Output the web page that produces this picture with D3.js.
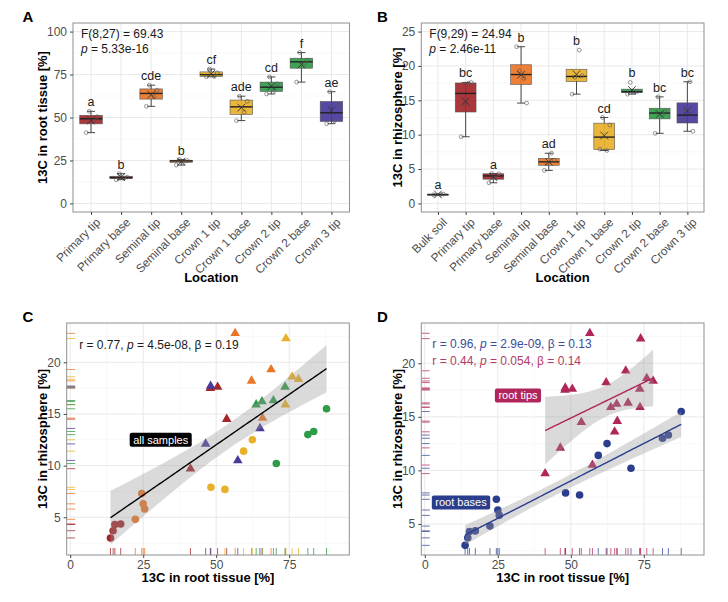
<!DOCTYPE html>
<html>
<head>
<meta charset="utf-8">
<script src="https://cdn.jsdelivr.net/npm/d3@7"></script>
<style>
  body { margin: 0; background: #fff; }
  text { font-family: 'Liberation Sans', Arial, sans-serif; }
</style>
</head>
<body>
<svg id="fig" width="728" height="602"></svg>
<script>
// locations shown on the box plots
const locationsA = ['Primary tip', 'Primary base', 'Seminal tip', 'Seminal base', 'Crown 1 tip',
                    'Crown 1 base', 'Crown 2 tip', 'Crown 2 base', 'Crown 3 tip'];
const locationsB = ['Bulk soil'].concat(locationsA);

// one entry per root sample (4 per location)
const sampleLocation = [
  'Primary tip', 'Primary tip', 'Primary tip', 'Primary tip',
  'Primary base', 'Primary base', 'Primary base', 'Primary base',
  'Seminal tip', 'Seminal tip', 'Seminal tip', 'Seminal tip',
  'Seminal base', 'Seminal base', 'Seminal base', 'Seminal base',
  'Crown 1 tip', 'Crown 1 tip', 'Crown 1 tip', 'Crown 1 tip',
  'Crown 1 base', 'Crown 1 base', 'Crown 1 base', 'Crown 1 base',
  'Crown 2 tip', 'Crown 2 tip', 'Crown 2 tip', 'Crown 2 tip',
  'Crown 2 base', 'Crown 2 base', 'Crown 2 base', 'Crown 2 base',
  'Crown 3 tip', 'Crown 3 tip', 'Crown 3 tip', 'Crown 3 tip'
];
// 13C in root tissue [%]
const rootTissue = [
  41.2, 48.0, 50.5, 53.6,
  13.8, 14.7, 15.3, 17.3,
  56.5, 62.1, 65.9, 68.8,
  22.3, 24.5, 25.0, 25.5,
  73.7, 73.9, 76.0, 78.2,
  48.2, 53.0, 59.4, 62.4,
  63.7, 65.7, 69.6, 73.6,
  70.6, 81.4, 83.4, 87.8,
  46.4, 48.1, 57.4, 65.0
];
// 13C in rhizosphere [%]
const rhizosphere = [
  9.7, 17.5, 17.6, 14.5,
  3.0, 3.7, 4.3, 4.35,
  22.8, 18.2, 14.6, 19.3,
  4.8, 7.3, 6.3, 5.8,
  15.9, 22.3, 18.6, 18.35,
  7.9, 7.7, 11.4, 12.5,
  15.9, 16.2, 16.3, 17.6,
  10.2, 13.0, 13.3, 15.5,
  12.1, 17.7, 10.5, 13.6
];
const bulkSoil = [1.25, 1.3, 1.35];

// compact letter display
const lettersA = ['a', 'b', 'cde', 'b', 'cf', 'ade', 'cd', 'f', 'ae'];
const lettersB = ['a', 'bc', 'a', 'b', 'ad', 'b', 'cd', 'b', 'bc', 'bc'];

const statsA = ['F(8,27) = 69.43', '5.33e-16'];
const statsB = ['F(9,29) = 24.94', '2.46e-11'];
const statsC = ['0.77', '4.5e-08', '0.19'];
const statsDbase = ['0.96', '2.9e-09', '0.13'];
const statsDtip = ['0.44', '0.054', '0.14'];

// colours
const locColor = {
  'Bulk soil': '#8a8a8a',
  'Primary tip': '#A3262A', 'Primary base': '#A3262A',
  'Seminal tip': '#EB7526', 'Seminal base': '#EB7526',
  'Crown 1 tip': '#E8B12B', 'Crown 1 base': '#E8B12B',
  'Crown 2 tip': '#2F9A47', 'Crown 2 base': '#2F9A47',
  'Crown 3 tip': '#48399B'
};
const tipColor = '#B0255A', baseColor = '#2B3D8D';
const tipText = '#B33C6A', baseText = '#3A4C99';

const isTip = loc => loc.endsWith('tip');
const jitter = [-0.16, 0.1, 0.2, -0.06];

const svg = d3.select('#fig');

function frame(g, p) {
  g.append('rect').attr('x', p.x).attr('y', p.y).attr('width', p.w).attr('height', p.h)
    .attr('fill', 'none').attr('stroke', '#8f8f8f').attr('stroke-width', 1);
}

function yGrid(g, p, y, major, minor) {
  g.selectAll(null).data(minor).enter().append('line')
    .attr('x1', p.x).attr('x2', p.x + p.w).attr('y1', d => y(d)).attr('y2', d => y(d))
    .attr('stroke', '#f3f3f3').attr('stroke-width', 0.6);
  g.selectAll(null).data(major).enter().append('line')
    .attr('x1', p.x).attr('x2', p.x + p.w).attr('y1', d => y(d)).attr('y2', d => y(d))
    .attr('stroke', '#e6e6e6').attr('stroke-width', 0.9);
}

function xGrid(g, p, x, major, minor) {
  g.selectAll(null).data(minor).enter().append('line')
    .attr('y1', p.y).attr('y2', p.y + p.h).attr('x1', d => x(d)).attr('x2', d => x(d))
    .attr('stroke', '#f3f3f3').attr('stroke-width', 0.6);
  g.selectAll(null).data(major).enter().append('line')
    .attr('y1', p.y).attr('y2', p.y + p.h).attr('x1', d => x(d)).attr('x2', d => x(d))
    .attr('stroke', '#e6e6e6').attr('stroke-width', 0.9);
}

function styleAxis(ax) {
  ax.select('.domain').remove();
  ax.selectAll('.tick line').attr('stroke', '#444');
  ax.selectAll('.tick text').attr('fill', '#4d4d4d').style('font-size', '11.5px')
    .style('font-family', "'Liberation Sans', Arial, sans-serif");
}

function panelLetter(txt, x, y) {
  svg.append('text').attr('x', x).attr('y', y).text(txt)
    .style('font-size', '15px').style('font-weight', 'bold');
}

function yTitle(txt, x, p) {
  svg.append('text').attr('transform', `translate(${x},${p.y + p.h / 2}) rotate(-90)`)
    .attr('text-anchor', 'middle').attr('dy', '0.35em').text(txt)
    .style('font-size', '13px').style('font-weight', 'bold');
}

function xTitle(txt, p, y) {
  svg.append('text').attr('x', p.x + p.w / 2).attr('y', y).attr('text-anchor', 'middle').text(txt)
    .style('font-size', '13px').style('font-weight', 'bold');
}

// ---------- box plot panels ----------
function boxPanel(p, cats, groups, letters, domain, ticks, minor, stats) {
  const g = svg.append('g');
  const x = d3.scalePoint().domain(cats).range([p.x, p.x + p.w]).padding(0.6);
  const y = d3.scaleLinear().domain(domain).range([p.y + p.h, p.y]);
  const bw = x.step() * 0.75;

  g.append('rect').attr('x', p.x).attr('y', p.y).attr('width', p.w).attr('height', p.h).attr('fill', '#fff');
  yGrid(g, p, y, ticks, minor);
  xGrid(g, p, x, cats, []);

  cats.forEach((c, i) => {
    const v = groups[i].slice().sort(d3.ascending);
    const q1 = d3.quantile(v, 0.25), med = d3.quantile(v, 0.5), q3 = d3.quantile(v, 0.75);
    const iqr = q3 - q1;
    const lo = d3.min(v.filter(d => d >= q1 - 1.5 * iqr));
    const hi = d3.max(v.filter(d => d <= q3 + 1.5 * iqr));
    const cx = x(c);
    // error bar with caps
    g.append('line').attr('x1', cx).attr('x2', cx).attr('y1', y(lo)).attr('y2', y(hi))
      .attr('stroke', '#333').attr('stroke-width', 0.9);
    [lo, hi].forEach(d => g.append('line').attr('x1', cx - 4).attr('x2', cx + 4)
      .attr('y1', y(d)).attr('y2', y(d)).attr('stroke', '#333').attr('stroke-width', 0.9));
    g.append('rect').attr('x', cx - bw / 2).attr('width', bw)
      .attr('y', y(q3)).attr('height', Math.max(1, y(q1) - y(q3)))
      .attr('fill', locColor[c]).attr('fill-opacity', 0.92)
      .attr('stroke', '#555').attr('stroke-width', 0.6);
    g.append('line').attr('x1', cx - bw / 2).attr('x2', cx + bw / 2).attr('y1', y(med)).attr('y2', y(med))
      .attr('stroke', '#222').attr('stroke-width', 1.4);
    // jittered raw values
    g.selectAll(null).data(groups[i]).enter().append('circle')
      .attr('cx', (d, j) => cx + jitter[j % 4] * x.step()).attr('cy', d => y(d)).attr('r', 1.9)
      .attr('fill', 'none').attr('stroke', '#555').attr('stroke-width', 0.6);
    // mean
    g.append('path').attr('d', d3.symbol(d3.symbolTimes, 40)())
      .attr('transform', `translate(${cx},${y(d3.mean(groups[i]))})`)
      .attr('fill', 'none').attr('stroke', '#333').attr('stroke-width', 0.9);
    // letters
    g.append('text').attr('x', cx).attr('y', y(d3.max(v)) - 5).attr('text-anchor', 'middle')
      .text(letters[i]).style('font-size', '12.5px').attr('fill', '#1a1a1a');
  });

  frame(g, p);
  const ay = g.append('g').attr('transform', `translate(${p.x},0)`)
    .call(d3.axisLeft(y).tickValues(ticks).tickSize(3).tickPadding(3));
  styleAxis(ay);
  ay.selectAll('.tick text').style('font-size', '12px');
  const ax = g.append('g').attr('transform', `translate(0,${p.y + p.h})`)
    .call(d3.axisBottom(x).tickSize(3).tickFormat(''));
  styleAxis(ax);
  cats.forEach(c => {
    g.append('text').attr('transform', `translate(${x(c) + 4},${p.y + p.h + 5}) rotate(-45)`)
      .attr('text-anchor', 'end').attr('dy', '0.72em').text(c)
      .style('font-size', '11.8px').attr('fill', '#4d4d4d');
  });

  g.append('text').attr('x', p.x + 8).attr('y', p.y + 15).text(stats[0])
    .style('font-size', '12px').attr('fill', '#1a1a1a');
  const t2 = g.append('text').attr('x', p.x + 8).attr('y', p.y + 30)
    .style('font-size', '12px').attr('fill', '#1a1a1a');
  t2.append('tspan').style('font-style', 'italic').text('p');
  t2.append('tspan').text(' = ' + stats[1]);
}

const pA = { x: 73, y: 23, w: 276.5, h: 189 };
const pB = { x: 421.3, y: 23, w: 282.7, h: 189 };
const pC = { x: 66.7, y: 323, w: 282.6, h: 232 };
const pD = { x: 421.3, y: 323, w: 282.7, h: 232 };

const groupsA = locationsA.map(l => rootTissue.filter((d, i) => sampleLocation[i] === l));
const groupsB = locationsB.map(l => l === 'Bulk soil' ? bulkSoil
  : rhizosphere.filter((d, i) => sampleLocation[i] === l));

boxPanel(pA, locationsA, groupsA, lettersA, [-5, 105], [0, 25, 50, 75, 100],
  [12.5, 37.5, 62.5, 87.5], statsA);
boxPanel(pB, locationsB, groupsB, lettersB, [-1.25, 26.25], [0, 5, 10, 15, 20, 25],
  [2.5, 7.5, 12.5, 17.5, 22.5], statsB);

panelLetter('A', 22.5, 22);
panelLetter('B', 377, 22);
yTitle('13C in root tissue [%]', 42, pA);
yTitle('13C in rhizosphere [%]', 397, pB);
xTitle('Location', pA, 282);
xTitle('Location', pB, 282);

// ---------- scatter panels ----------
const samples = sampleLocation.map((l, i) => ({ loc: l, x: rootTissue[i], y: rhizosphere[i] }));

function fitLine(pts, tcrit) {
  const xs = pts.map(d => d.x), ys = pts.map(d => d.y);
  const n = xs.length, mx = d3.mean(xs), my = d3.mean(ys);
  const sxx = d3.sum(xs, v => (v - mx) ** 2);
  const sxy = d3.sum(xs.map((v, i) => (v - mx) * (ys[i] - my)));
  const b = sxy / sxx, a = my - b * mx;
  const s = Math.sqrt(d3.sum(xs.map((v, i) => (ys[i] - a - b * v) ** 2)) / (n - 2));
  const [x0, x1] = d3.extent(xs);
  return d3.range(81).map(k => {
    const xv = x0 + (x1 - x0) * k / 80;
    const yh = a + b * xv, se = s * Math.sqrt(1 / n + (xv - mx) ** 2 / sxx);
    return { x: xv, y: yh, lo: yh - tcrit * se, hi: yh + tcrit * se };
  });
}

function scatterPanel(p, yDomain, colorOf, rugOpacity, fits) {
  const g = svg.append('g');
  const x = d3.scaleLinear().domain([-1.2, 95.6]).range([p.x, p.x + p.w]);
  const y = d3.scaleLinear().domain(yDomain).range([p.y + p.h, p.y]);

  g.append('rect').attr('x', p.x).attr('y', p.y).attr('width', p.w).attr('height', p.h).attr('fill', '#fff');
  yGrid(g, p, y, [5, 10, 15, 20], [2.5, 7.5, 12.5, 17.5, 22.5].filter(d => d > yDomain[0]));
  xGrid(g, p, x, [0, 25, 50, 75], [12.5, 37.5, 62.5, 87.5]);

  // rugs
  g.selectAll(null).data(samples).enter().append('line')
    .attr('x1', d => x(d.x)).attr('x2', d => x(d.x))
    .attr('y1', p.y + p.h).attr('y2', p.y + p.h - 0.03 * p.h)
    .attr('stroke', d => colorOf(d)).attr('stroke-opacity', rugOpacity).attr('stroke-width', 1);
  g.selectAll(null).data(samples).enter().append('line')
    .attr('y1', d => y(d.y)).attr('y2', d => y(d.y))
    .attr('x1', p.x).attr('x2', p.x + 0.03 * p.w)
    .attr('stroke', d => colorOf(d)).attr('stroke-opacity', rugOpacity).attr('stroke-width', 1);

  // points: circles for bases, triangles for tips
  g.selectAll(null).data(samples.filter(d => !isTip(d.loc))).enter().append('circle')
    .attr('cx', d => x(d.x)).attr('cy', d => y(d.y)).attr('r', 3.8)
    .attr('fill', d => colorOf(d));
  g.selectAll(null).data(samples.filter(d => isTip(d.loc))).enter().append('path')
    .attr('d', d3.symbol(d3.symbolTriangle, 40)())
    .attr('transform', d => `translate(${x(d.x)},${y(d.y)})`)
    .attr('fill', d => colorOf(d));

  // smooths
  fits.forEach(f => {
    g.append('path').datum(f.band)
      .attr('d', d3.area().x(d => x(d.x)).y0(d => y(d.lo)).y1(d => y(d.hi)))
      .attr('fill', '#999').attr('fill-opacity', 0.36);
  });
  fits.forEach(f => {
    g.append('path').datum(f.band)
      .attr('d', d3.line().x(d => x(d.x)).y(d => y(d.y)))
      .attr('fill', 'none').attr('stroke', f.color).attr('stroke-width', 1.4);
  });

  frame(g, p);
  const ay = g.append('g').attr('transform', `translate(${p.x},0)`)
    .call(d3.axisLeft(y).tickValues([5, 10, 15, 20]).tickSize(3).tickPadding(3));
  styleAxis(ay);
  ay.selectAll('.tick text').style('font-size', '12px');
  const ax = g.append('g').attr('transform', `translate(0,${p.y + p.h})`)
    .call(d3.axisBottom(x).tickValues([0, 25, 50, 75]).tickSize(3).tickPadding(2));
  styleAxis(ax);
  ax.selectAll('.tick text').style('font-size', '12px');
  return { g, x, y };
}

function statLine(g, x, y, vals, color) {
  const t = g.append('text').attr('x', x).attr('y', y).attr('fill', color).style('font-size', '12px');
  t.append('tspan').text('r = ' + vals[0] + ', ');
  t.append('tspan').style('font-style', 'italic').text('p');
  t.append('tspan').text(' = ' + vals[1] + ', \u03B2 = ' + vals[2]);
}

function label(g, cx, cy, txt, fill) {
  const t = g.append('text').attr('x', cx).attr('y', cy).attr('text-anchor', 'middle')
    .attr('dy', '0.35em').attr('fill', '#fff').style('font-size', '11px').text(txt);
  const w = t.node().getComputedTextLength();
  g.insert('rect', () => t.node()).attr('x', cx - w / 2 - 3.5).attr('y', cy - 7).attr('width', w + 7)
    .attr('height', 14).attr('rx', 2).attr('fill', fill);
}

// panel C: all samples
const fitAll = fitLine(samples, 2.032);
const C = scatterPanel(pC, [1.35, 23.8], d => locColor[d.loc], 0.75, [{ band: fitAll, color: '#000' }]);
statLine(C.g, pC.x + 12.5, pC.y + 25.5, statsC, '#1a1a1a');
label(C.g, C.x(31), C.y(12.5), 'all samples', '#000');

// panel D: tips vs bases
const fitBase = fitLine(samples.filter(d => !isTip(d.loc)), 2.145);
const fitTip = fitLine(samples.filter(d => isTip(d.loc)), 2.101);
const D = scatterPanel(pD, [2.1, 23.76], d => isTip(d.loc) ? tipColor : baseColor, 0.7,
  [{ band: fitBase, color: baseColor }, { band: fitTip, color: tipColor }]);
statLine(D.g, pD.x + 11, pD.y + 25, statsDbase, baseText);
statLine(D.g, pD.x + 11, pD.y + 42, statsDtip, tipText);
label(D.g, D.x(31.9), D.y(17.0), 'root tips', tipColor);
label(D.g, D.x(12.4), D.y(7.0), 'root bases', baseColor);

panelLetter('C', 22.5, 322);
panelLetter('D', 377, 322);
yTitle('13C in rhizosphere [%]', 42, pC);
yTitle('13C in rhizosphere [%]', 397, pD);
xTitle('13C in root tissue [%]', pC, 582);
xTitle('13C in root tissue [%]', pD, 582);
</script>
</body>
</html>
